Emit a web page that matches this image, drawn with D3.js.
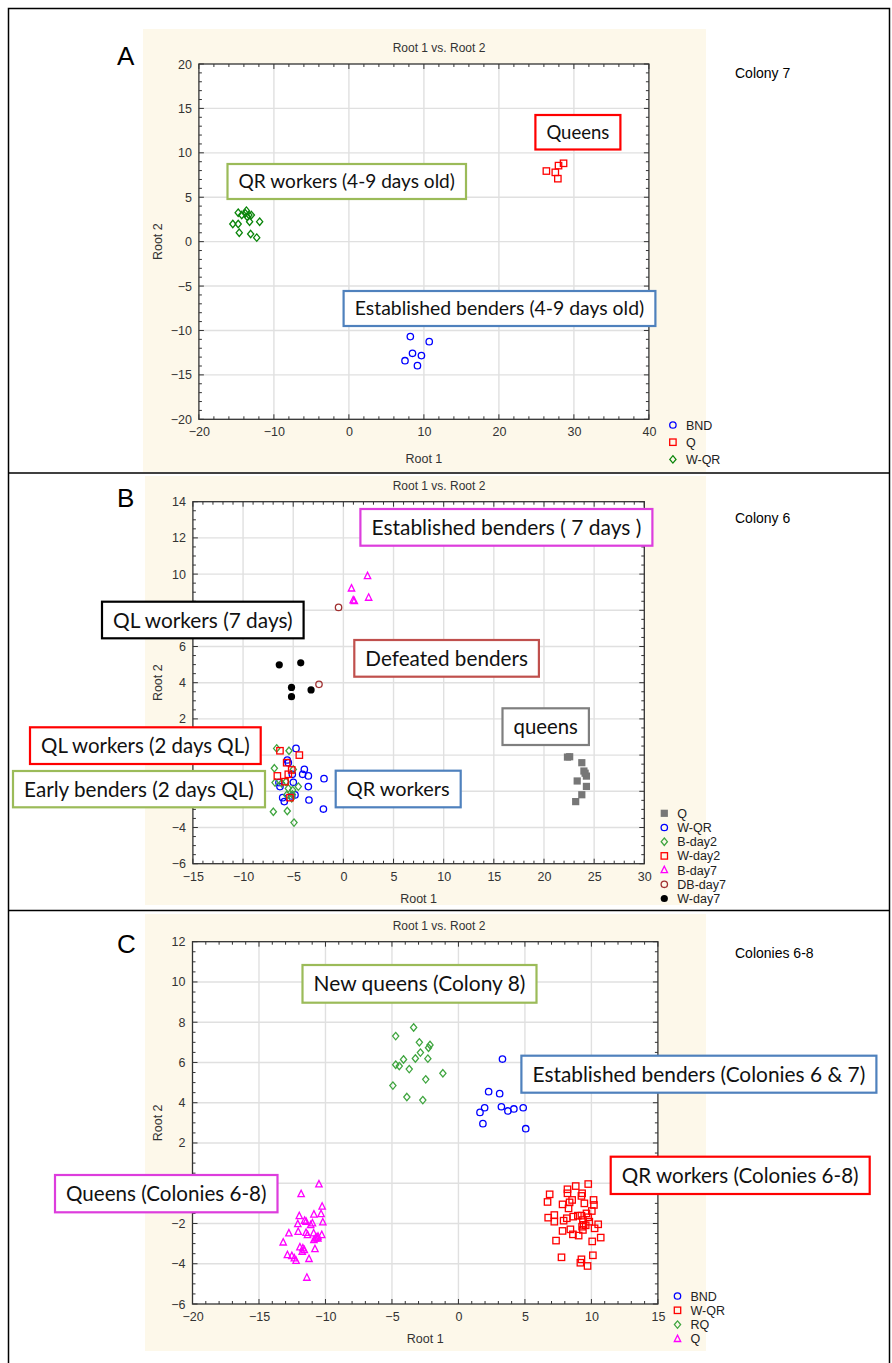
<!DOCTYPE html>
<html><head><meta charset="utf-8">
<script src="https://cdn.jsdelivr.net/npm/d3@7"></script>
<style>body{margin:0;background:#fff}svg{display:block}</style>
</head><body>
<svg id="c" width="892" height="1363"></svg>
<script>
// ---------- DATA ----------
// Panel A (Colony 7)
const aBND = [[8.19,-10.69],[10.71,-11.26],[8.48,-12.57],[9.67,-12.83],[7.48,-13.40],[9.14,-13.96]];
const aQ = [[26.33,7.95],[27.52,7.80],[27.95,8.56],[28.62,8.82],[27.86,7.09]];
const aWQR = [[-14.76,3.26],[-14.29,3.0],[-13.67,3.49],[-13.81,3.19],[-13.33,3.0],[-13.0,3.0],[-13.57,2.81],
  [-15.48,1.99],[-14.76,1.99],[-13.24,2.25],[-11.9,2.25],[-14.62,1.01],[-13.1,0.86],[-12.29,0.45]];
// Panel B (Colony 6)
const bQ = [[22.34,-0.11],[22.56,-0.09],[23.77,-0.42],[23.98,-0.88],[24.23,-1.16],[24.1,-1.0],[23.31,-1.43],[24.23,-1.73],[23.77,-2.19],[23.16,-2.57]];
const bWQR = [[-4.72,0.37],[-5.59,-0.27],[-5.49,-0.42],[-3.89,-0.79],[-4.06,-1.06],[-3.49,-1.15],[-5.09,-1.06],[-1.93,-1.30],
  [-6.42,-1.52],[-4.99,-1.50],[-3.49,-1.74],[-6.32,-1.74],[-6.05,-2.35],[-4.82,-2.20],[-5.15,-2.26],[-3.43,-2.48],[-5.89,-2.57],[-1.99,-2.98]];
const bBday2 = [[-6.65,0.37],[-5.42,0.24],[-6.88,-0.73],[-4.99,-0.79],[-6.81,-1.52],[-6.15,-1.56],[-5.72,-1.47],[-4.49,-1.74],
  [-5.49,-1.84],[-5.05,-1.93],[-5.65,-2.20],[-5.09,-2.17],[-5.15,-2.39],[-6.98,-3.13],[-5.59,-3.09],[-4.92,-3.73]];
const bWday2 = [[-6.32,0.24],[-4.39,0.0],[-5.65,-0.42],[-5.15,-0.82],[-5.49,-1.06],[-6.58,-1.15],[-5.82,-1.47],[-5.32,-2.35]];
const bBday7 = [[2.41,9.89],[0.81,9.21],[0.98,8.55],[1.09,8.51],[2.52,8.70]];
const bDBday7 = [[-0.48,8.16],[-2.43,3.91]];
const bWday7 = [[-6.39,4.99],[-4.25,5.10],[-5.17,3.74],[-5.17,3.23],[-3.22,3.60]];
// Panel C (Colonies 6-8)
const cBND = [[3.31,6.17],[2.27,4.55],[3.10,4.45],[1.97,3.75],[1.62,3.52],[3.23,3.80],[3.72,3.59],[4.17,3.69],[4.87,3.75],[1.84,2.96],[5.06,2.71]];
const cWQR = [[8.20,-0.30],[8.82,-0.14],[9.76,-0.04],[6.86,-0.55],[8.20,-0.50],[9.30,-0.50],[9.25,-0.63],[10.16,-0.83],[6.70,-0.93],
  [7.83,-1.05],[8.36,-0.95],[9.47,-1.0],[10.19,-1.08],[8.28,-1.25],[10.03,-1.38],[6.75,-1.71],[7.21,-1.58],[7.91,-1.86],[7.21,-1.91],
  [8.63,-1.66],[8.98,-1.61],[9.25,-1.61],[9.63,-1.50],[9.36,-1.83],[9.76,-1.69],[10.51,-2.04],[9.30,-2.16],[9.57,-2.09],[8.42,-2.29],
  [7.83,-2.37],[9.36,-2.32],[10.24,-2.24],[8.61,-2.54],[9.04,-2.60],[7.34,-2.85],[10.06,-2.89],[10.70,-2.70],[7.75,-3.68],[9.25,-3.78],
  [9.17,-3.95],[9.71,-4.11],[10.11,-3.58],[9.41,-2.07],[8.15,-1.74],[9.84,-1.91],[8.55,-0.83]];
const cRQ = [[-3.37,7.74],[-4.72,7.31],[-2.94,7.0],[-2.25,6.73],[-2.14,6.87],[-2.86,6.49],[-3.24,6.2],[-2.30,6.19],[-4.13,6.15],
  [-4.72,5.89],[-4.45,5.82],[-3.70,5.67],[-1.17,5.46],[-2.46,5.16],[-4.93,4.85],[-3.88,4.28],[-2.68,4.13]];
const cQ = [[-10.49,-0.05],[-11.83,-0.54],[-10.25,-1.16],[-10.33,-1.53],[-10.87,-1.55],[-11.97,-1.63],[-10.20,-1.94],[-11.57,-1.86],
  [-11.46,-1.91],[-10.98,-1.99],[-11.11,-2.08],[-12.08,-2.03],[-12.75,-2.49],[-12.05,-2.41],[-11.46,-2.46],[-11.35,-2.57],[-10.28,-2.57],
  [-10.76,-2.74],[-10.87,-2.82],[-10.57,-2.74],[-13.18,-2.94],[-11.92,-3.18],[-11.70,-3.23],[-11.59,-3.32],[-11.75,-3.40],[-10.79,-3.27],
  [-12.86,-3.57],[-12.53,-3.61],[-12.34,-3.73],[-12.21,-3.85],[-11.24,-3.76],[-11.40,-4.69],[-10.56,-2.65],[-10.89,-2.49],[-10.69,-2.70]];

const xTicksA = [-20,-10,0,10,20,30,40], yTicksA = [-20,-15,-10,-5,0,5,10,15,20];
const xTicksB = [-15,-10,-5,0,5,10,15,20,25,30], yTicksB = [-6,-4,-2,0,2,4,6,8,10,12,14];
const xTicksC = [-20,-15,-10,-5,0,5,10,15], yTicksC = [-6,-4,-2,0,2,4,6,8,10,12];

const legendA = ["BND","Q","W-QR"];
const legendB = ["Q","W-QR","B-day2","W-day2","B-day7","DB-day7","W-day7"];
const legendC = ["BND","W-QR","RQ","Q"];

// ---------- LAYOUT ----------
const RED="#ff0000", GREENBOX="#9bbb59", BLUEBOX="#4f81bd", MAG="#dd3ddd", BROWNBOX="#c0504d", GRAYBOX="#7f7f7f";
const svg = d3.select("#c");
const SANS = "'Liberation Sans', Arial, sans-serif";

const markers = {
  circle: g => g.append("circle").attr("r",3.2).attr("fill","none"),
  square: g => g.append("rect").attr("x",-3.2).attr("y",-3.2).attr("width",6.4).attr("height",6.4).attr("fill","none"),
  diamond: g => g.append("path").attr("d","M0,-3.7L3.1,0L0,3.7L-3.1,0Z").attr("fill","none"),
  triangle: g => g.append("path").attr("d","M0,-3.8L3.2,2.6L-3.2,2.6Z").attr("fill","none"),
  dot: g => g.append("circle").attr("r",3.6).attr("stroke","none"),
  fsquare: g => g.append("rect").attr("x",-3.6).attr("y",-3.6).attr("width",7.2).attr("height",7.2).attr("stroke","none")
};

const panels = [
  {bg:[143,29,563,443], x0:198.9,x1:648.9,y0:64,y1:419.3, xd:[-20,40], yd:[-20,20], xt:xTicksA, yt:yTicksA, xm:5, ym:5,
   rootY:458.3, legX:672.9, legY:425, legDy:17.2, letter:"A", letY:65, col:"Colony 7", colY:78,
   series:[{d:aBND,m:"circle",c:"#0000ff"},{d:aQ,m:"square",c:"#ff0000"},{d:aWQR,m:"diamond",c:"#0a850a"}],
   legend:legendA,
   ann:[{t:"Queens",c:RED,b:[535.4,115,85,34.5]},
        {t:"QR workers (4-9 days old)",c:GREENBOX,b:[227.5,164,238.5,35]},
        {t:"Established benders (4-9 days old)",c:BLUEBOX,b:[343.6,291,311.8,35]}]},
  {bg:[145,476,561,429], x0:192.9,x1:644.3,y0:501.7,y1:863.7, xd:[-15,30], yd:[-6,14], xt:xTicksB, yt:yTicksB, xm:5, ym:4,
   rootY:898.3, legX:664.3, legY:813.3, legDy:14.2, letter:"B", letY:507, col:"Colony 6", colY:523,
   series:[{d:bQ,m:"fsquare",c:"#777777"},{d:bWQR,m:"circle",c:"#0000ff"},{d:bBday2,m:"diamond",c:"#3fa53f"},
           {d:bWday2,m:"square",c:"#ff0000"},{d:bBday7,m:"triangle",c:"#ff00ff"},{d:bDBday7,m:"circle",c:"#a03030"},{d:bWday7,m:"dot",c:"#000000"}],
   legend:legendB,
   ann:[{t:"Established benders ( 7 days )",c:MAG,b:[360.4,509,292,36.7]},
        {t:"QL workers (7 days)",c:"#000000",b:[102,601.7,201.6,36.6]},
        {t:"Defeated benders",c:BROWNBOX,b:[354.3,640,184.6,36.7]},
        {t:"queens",c:GRAYBOX,b:[502.5,708.3,86.4,36.7]},
        {t:"QL workers (2 days QL)",c:RED,b:[30,727.3,230.7,36.7]},
        {t:"Early benders (2 days QL)",c:GREENBOX,b:[13,771,252,36.3]},
        {t:"QR workers",c:BLUEBOX,b:[335.7,770.7,125,36.6]}]},
  {bg:[145,914,561,437], x0:192.5,x1:657.9,y0:941.7,y1:1304, xd:[-20,15], yd:[-6,12], xt:xTicksC, yt:yTicksC, xm:5, ym:4,
   rootY:1338.3, legX:677.5, legY:1296, legDy:14.3, letter:"C", letY:953, col:"Colonies 6-8", colY:958,
   series:[{d:cBND,m:"circle",c:"#0000ff"},{d:cWQR,m:"square",c:"#ff0000"},{d:cRQ,m:"diamond",c:"#3fa53f"},{d:cQ,m:"triangle",c:"#ff00ff"}],
   legend:legendC,
   ann:[{t:"New queens (Colony 8)",c:GREENBOX,b:[302.5,965,234,37.7]},
        {t:"Established benders (Colonies 6 & 7)",c:BLUEBOX,b:[521.4,1055.7,355,37]},
        {t:"QR workers (Colonies 6-8)",c:RED,b:[610.7,1156.7,259,37.3]},
        {t:"Queens (Colonies 6-8)",c:MAG,b:[55,1175,222.5,37.3]}]}
];

function hidden(bb, boxes){
  return boxes.some(a => { const [bx,by,bw,bh]=a.b;
    return bb.x < bx+bw && bb.x+bb.width > bx && bb.y < by+bh && bb.y+bb.height > by; });
}

panels.forEach(p => {
  const g = svg.append("g");
  g.append("rect").attr("x",p.bg[0]).attr("y",p.bg[1]).attr("width",p.bg[2]).attr("height",p.bg[3]).attr("fill","#fdf8ea");
  const x = d3.scaleLinear().domain(p.xd).range([p.x0,p.x1]);
  const y = d3.scaleLinear().domain(p.yd).range([p.y1,p.y0]);
  g.append("rect").attr("x",p.x0).attr("y",p.y0).attr("width",p.x1-p.x0).attr("height",p.y1-p.y0).attr("fill","#fff");
  // grid
  g.selectAll(".gx").data(p.xt.slice(1,-1)).join("line").attr("x1",d=>x(d)).attr("x2",d=>x(d)).attr("y1",p.y0).attr("y2",p.y1)
    .attr("stroke","#e0e0e0").attr("stroke-width",1.4);
  g.selectAll(".gy").data(p.yt.slice(1,-1)).join("line").attr("y1",d=>y(d)).attr("y2",d=>y(d)).attr("x1",p.x0).attr("x2",p.x1)
    .attr("stroke","#e0e0e0").attr("stroke-width",1.4);
  // minor/major ticks inside on all sides
  const xs = p.xt[1]-p.xt[0], ys = p.yt[1]-p.yt[0];
  const xminor = d3.range(p.xd[0], p.xd[1]+1e-9, xs/p.xm);
  const yminor = d3.range(p.yd[0], p.yd[1]+1e-9, ys/p.ym);
  const tk = g.append("g").attr("stroke","#333").attr("stroke-width",1);
  xminor.forEach(v => {
    const major = p.xt.some(t=>Math.abs(t-v)<1e-6); const L = major?5:3;
    tk.append("line").attr("x1",x(v)).attr("x2",x(v)).attr("y1",p.y1).attr("y2",p.y1-L);
    tk.append("line").attr("x1",x(v)).attr("x2",x(v)).attr("y1",p.y0).attr("y2",p.y0+L);
  });
  yminor.forEach(v => {
    const major = p.yt.some(t=>Math.abs(t-v)<1e-6); const L = major?5:3;
    tk.append("line").attr("y1",y(v)).attr("y2",y(v)).attr("x1",p.x0).attr("x2",p.x0+L);
    tk.append("line").attr("y1",y(v)).attr("y2",y(v)).attr("x1",p.x1).attr("x2",p.x1-L);
  });
  g.append("rect").attr("x",p.x0).attr("y",p.y0).attr("width",p.x1-p.x0).attr("height",p.y1-p.y0)
    .attr("fill","none").attr("stroke","#333").attr("stroke-width",1.3);
  // axes labels via d3 axes (lines hidden)
  const ax = g.append("g").attr("transform",`translate(0,${p.y1})`).call(d3.axisBottom(x).tickValues(p.xt).tickSize(0).tickPadding(8).tickFormat(d3.format("d")));
  const ay = g.append("g").attr("transform",`translate(${p.x0},0)`).call(d3.axisLeft(y).tickValues(p.yt).tickSize(0).tickPadding(7).tickFormat(d3.format("d")));
  [ax,ay].forEach(a => { a.select(".domain").remove(); a.selectAll("text").attr("font-family",SANS).attr("font-size",12.5).attr("fill","#333"); });
  ax.selectAll("text").attr("dy","0.71em");
  // tick labels covered by the annotation boxes are not visible in the reference
  ay.selectAll(".tick").each(function(){
    const bb = this.getBBox(); const m = this.getCTM();
    const r = {x:bb.x+m.e, y:bb.y+m.f, width:bb.width, height:bb.height};
    if (hidden(r, p.ann)) d3.select(this).remove();
  });
  // titles
  g.append("text").attr("x",439).attr("y",p.y0-12).attr("text-anchor","middle").attr("font-family",SANS).attr("font-size",12).attr("fill","#333").text("Root 1 vs. Root 2");
  g.append("text").attr("x",(p.x0+p.x1)/2).attr("y",p.rootY+4.5).attr("text-anchor","middle").attr("font-family",SANS).attr("font-size",12.5).attr("fill","#333").text("Root 1");
  g.append("text").attr("transform",`translate(162,${(p.y0+p.y1)/2}) rotate(-90)`).attr("text-anchor","middle").attr("font-family",SANS).attr("font-size",12.5).attr("fill","#333").text("Root 2");
  // points
  p.series.forEach(s => {
    s.d.forEach(pt => {
      const m = g.append("g").attr("transform",`translate(${x(pt[0])},${y(pt[1])})`).attr("stroke",s.c).attr("fill",s.c).attr("stroke-width",1.3);
      markers[s.m](m);
    });
  });
  // legend
  p.legend.forEach((name,i) => {
    const s = p.series[i];
    const ly = p.legY + i*p.legDy;
    const m = g.append("g").attr("transform",`translate(${p.legX},${ly})`).attr("stroke",s.c).attr("fill",s.c).attr("stroke-width",1.3);
    markers[s.m](m);
    g.append("text").attr("x",p.legX+13).attr("y",ly+4.5).attr("font-family",SANS).attr("font-size",12.5).attr("fill","#222").text(name);
  });
  // annotation boxes
  p.ann.forEach(a => {
    const [bx,by,bw,bh] = a.b;
    g.append("rect").attr("x",bx).attr("y",by).attr("width",bw).attr("height",bh).attr("fill","#fff").attr("stroke",a.c).attr("stroke-width",2.2);
    const t = g.append("text").attr("x",bx+bw/2).attr("text-anchor","middle").attr("font-family","Lato, 'Open Sans', sans-serif")
      .attr("font-size",20).attr("fill","#111").text(a.t);
    const w = t.node().getComputedTextLength();
    const fs = 20*(bw-22)/w;
    t.attr("font-size",fs).attr("y",by+bh/2+fs*0.36);
  });
  // panel letter & colony label
  svg.append("text").attr("x",117).attr("y",p.letY).attr("font-family",SANS).attr("font-size",26).attr("fill","#000").text(p.letter);
  svg.append("text").attr("x",735).attr("y",p.colY).attr("font-family",SANS).attr("font-size",14).attr("fill","#000").text(p.col);
});

// frame and dividers
svg.append("rect").attr("x",8.5).attr("y",8.5).attr("width",881).attr("height",1360).attr("fill","none").attr("stroke","#000").attr("stroke-width",1.5);
[473,910.5].forEach(v => svg.append("line").attr("x1",8).attr("x2",890).attr("y1",v).attr("y2",v).attr("stroke","#000").attr("stroke-width",1.5));
</script>
</body></html>
